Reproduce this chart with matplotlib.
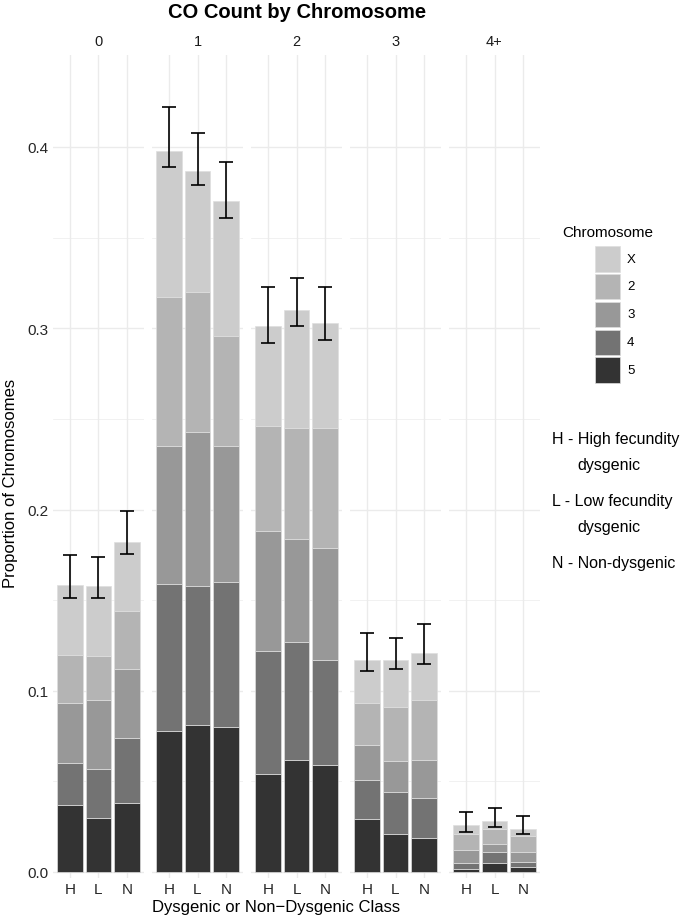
import numpy as np
import matplotlib
matplotlib.use('Agg')
from matplotlib import pyplot as plt
from matplotlib.patches import Rectangle

plt.rcParams['font.family'] = ['Liberation Sans', 'DejaVu Sans']

co_counts = ['0', '1', '2', '3', '4+']
classes = ['H', 'L', 'N']
chromosomes = ['X', '2', '3', '4', '5']

# proportion contributed by each chromosome, rows = CO count, cols = H, L, N
chr5 = [[0.037, 0.030, 0.038], [0.078, 0.081, 0.080], [0.054, 0.062, 0.059], [0.029, 0.021, 0.019], [0.0015, 0.005, 0.0028]]
chr4 = [[0.023, 0.027, 0.036], [0.081, 0.077, 0.080], [0.068, 0.065, 0.058], [0.022, 0.023, 0.022], [0.0033, 0.0062, 0.0027]]
chr3 = [[0.033, 0.038, 0.038], [0.076, 0.085, 0.075], [0.066, 0.057, 0.062], [0.019, 0.017, 0.021], [0.0072, 0.0041, 0.0055]]
chr2 = [[0.027, 0.024, 0.032], [0.082, 0.077, 0.061], [0.058, 0.061, 0.066], [0.023, 0.030, 0.033], [0.009, 0.0083, 0.0089]]
chrX = [[0.0386, 0.039, 0.038], [0.081, 0.067, 0.074], [0.055, 0.065, 0.058], [0.024, 0.026, 0.026], [0.0048, 0.0046, 0.0041]]

err_lo = [[0.151, 0.151, 0.1754], [0.389, 0.379, 0.361], [0.292, 0.3015, 0.2936], [0.111, 0.112, 0.115], [0.022, 0.025, 0.0208]]
err_hi = [[0.175, 0.174, 0.199], [0.422, 0.408, 0.392], [0.323, 0.328, 0.323], [0.132, 0.129, 0.137], [0.033, 0.0355, 0.031]]

colors = {'5': '#333333', '4': '#737373', '3': '#989898', '2': '#B4B4B4', 'X': '#CCCCCC'}
stack = [('5', chr5), ('4', chr4), ('3', chr3), ('2', chr2), ('X', chrX)]

W, H = 685, 920
fig = plt.figure(figsize=(W / 100, H / 100), dpi=100)

y0px, ppu = 873.0, 1812.5  # pixel of y=0, pixels per unit
top_px, bot_px = 56, 879
ymin = -(bot_px - y0px) / ppu
ymax = (y0px - top_px) / ppu
x = np.arange(1, 4)

for i, cc in enumerate(co_counts):
    left = 53 + 99 * i
    ax = fig.add_axes([left / W, (H - bot_px) / H, 91 / W, (bot_px - top_px) / H])
    bottom = np.zeros(3)
    for name, vals in stack:
        v = np.array(vals[i])
        ax.bar(x, v, width=0.9, bottom=bottom, color=colors[name], edgecolor='#dedede', linewidth=0.5, zorder=2)
        bottom = bottom + v
    lo = np.array(err_lo[i]); hi = np.array(err_hi[i])
    mid = (lo + hi) / 2
    ax.errorbar(x, mid, yerr=(hi - lo) / 2, fmt='none', ecolor='black', elinewidth=1.2, capsize=5.2, capthick=1.2, zorder=3)
    ax.set_xlim(0.4, 3.6)
    ax.set_ylim(ymin, ymax)
    ax.set_yticks(np.arange(0, 0.41, 0.1))
    ax.set_yticks(np.arange(0.05, 0.45, 0.1), minor=True)
    ax.set_xticks(x)
    ax.set_xticklabels(classes)
    ax.grid(True, which='major', color='#EBEBEB', linewidth=1.0, zorder=0)
    ax.grid(True, which='minor', axis='y', color='#EBEBEB', linewidth=0.5, zorder=0)
    ax.set_axisbelow(True)
    for s in ax.spines.values():
        s.set_visible(False)
    ax.tick_params(which='both', length=0, labelsize=11, labelcolor='#262626', pad=3)
    if i == 0:
        ax.set_yticklabels(['0.0', '0.1', '0.2', '0.3', '0.4'])
    else:
        ax.set_yticklabels([])
    fig.text((left + 45.5) / W, 1 - 42 / H, cc, ha='center', va='center', fontsize=10.5, color='#1a1a1a')

fig.text(297 / W, 1 - 12 / H, 'CO Count by Chromosome', ha='center', va='center', fontsize=14.5, fontweight='bold')
fig.text(276 / W, 1 - 908 / H, 'Dysgenic or Non\u2212Dysgenic Class', ha='center', va='center', fontsize=12)
fig.text(11 / W, 1 - 483 / H, 'Proportion of Chromosomes', ha='center', va='center', rotation=90, fontsize=12,
         family=['Liberation Sans Narrow', 'Liberation Sans'])

# legend
ov = fig.add_axes([0, 0, 1, 1])
ov.set_xlim(0, W); ov.set_ylim(H, 0); ov.axis('off')
ov.text(562, 233, 'Chromosome', ha='left', va='center', fontsize=11)
key_tops = [247, 274.5, 302.5, 330.5, 358]
for name, ktop in zip(chromosomes, key_tops):
    ov.add_patch(Rectangle((595, ktop), 25, 25.5, facecolor=colors[name], edgecolor='#dedede', linewidth=0.5))
    ov.text(627, ktop + 13, name, ha='left', va='center', fontsize=9.5)

notes = [(552, 440, 'H - High fecundity'), (577, 466, 'dysgenic'), (552, 502, 'L - Low fecundity'),
         (577, 528, 'dysgenic'), (552, 564, 'N - Non-dysgenic')]
for nx, ny, t in notes:
    ov.text(nx, ny, t, ha='left', va='center', fontsize=11.5)

fig.savefig('out.png', dpi=100)
